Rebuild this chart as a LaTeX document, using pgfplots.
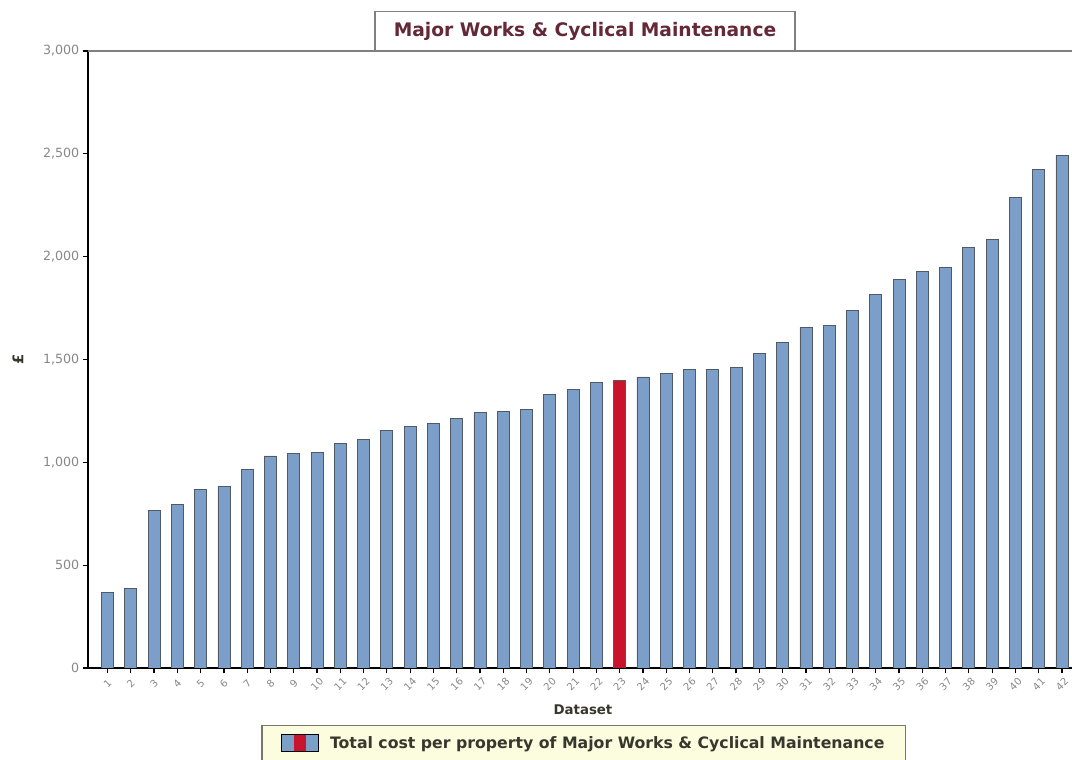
\documentclass[border=0pt]{standalone}
\usepackage{pgfplots}
\pgfplotsset{compat=1.18}
\usepackage{fontspec}
\setmainfont{DejaVu Sans}

\definecolor{barblue}{RGB}{123,159,200}
\definecolor{barred}{RGB}{200,20,44}
\definecolor{baredge}{RGB}{80,90,102}
\definecolor{titlered}{RGB}{100,40,55}
\definecolor{ticktext}{RGB}{135,135,135}
\definecolor{legfill}{RGB}{252,252,222}
\definecolor{legedge}{RGB}{120,120,100}
\definecolor{legtext}{RGB}{55,55,45}

\begin{document}
\begin{tikzpicture}
\begin{axis}[
  at={(0,0)}, anchor=south west,
  scale only axis,
  width=738pt, height=462.75pt,
  xmin=0.162, xmax=42.43,
  ymin=0, ymax=3000,
  axis x line*=bottom, axis y line*=left,
  axis line style={black, line width=0.9pt},
  tick align=outside,
  major tick length=4pt,
  tick style={black, line width=0.9pt},
  xtick={1,...,42},
  ytick={0,500,1000,1500,2000,2500,3000},
  /pgf/number format/1000 sep={,},
  /pgf/number format/assume math mode=true,
  xticklabel style={font=\fontsize{7.5}{9}\selectfont, text=ticktext, rotate=45, anchor=center, inner sep=0pt},
  xticklabel shift=8pt,
  yticklabel style={font=\fontsize{9.5}{11}\selectfont, text=ticktext, xshift=1pt},
  xlabel={Dataset},
  xlabel style={font=\bfseries\fontsize{10}{12}\selectfont, text=legtext, at={(axis description cs:0.503,0)}, anchor=center, yshift=-31.5pt},
  ylabel={£},
  ylabel style={font=\bfseries\fontsize{11}{12}\selectfont, text=legtext, at={(axis description cs:0,0.5)}, anchor=center, yshift=52.5pt},
  legend style={
    at={(axis description cs:0.504,-0.0924)}, anchor=north,
    fill=legfill, draw=legedge, line width=0.9pt,
    font=\bfseries\fontsize{11.8}{14}\selectfont, text=legtext,
    inner xsep=14pt, inner ysep=6pt,
  },
  legend cell align=left,
  legend image code/.code={
    \fill[fill=barblue, draw=none] (0pt,-6.4pt) rectangle (27.75pt,6.4pt);
    \fill[fill=barred, draw=none] (9.25pt,-6.4pt) rectangle (18.5pt,6.4pt);
    \draw[draw=black, fill=none, line width=0.9pt] (0pt,-6.4pt) rectangle (27.75pt,6.4pt);
    \path[draw=none, fill=none] (0pt,0pt) -- (34.5pt,0pt);
  },
]
% all datasets except the highlighted one
\addplot[ybar, bar width=9pt, bar shift=0pt, fill=barblue, draw=baredge, line width=0.6pt]
  coordinates {
  (1,366) (2,386) (3,768) (4,797) (5,870) (6,881) (7,967) (8,1031)
  (9,1044) (10,1049) (11,1092) (12,1112) (13,1157) (14,1176) (15,1188)
  (16,1214) (17,1241) (18,1249) (19,1259) (20,1331) (21,1355) (22,1387)
  (24,1415) (25,1434) (26,1452) (27,1452) (28,1463) (29,1528) (30,1584)
  (31,1656) (32,1664) (33,1740) (34,1818) (35,1891) (36,1930) (37,1946)
  (38,2043) (39,2084) (40,2288) (41,2424) (42,2494)
  };
\addlegendentry{Total cost per property of Major Works \& Cyclical Maintenance}
% highlighted dataset
\addplot[ybar, bar width=9pt, bar shift=0pt, fill=barred, draw=baredge, line width=0.6pt, forget plot]
  coordinates {(23,1400)};
% grey frame line along the top of the plot area
\draw[gray, line width=0.9pt] (rel axis cs:0,1) -- (rel axis cs:1,1);
\end{axis}
% chart title in its framed box
\node[draw=gray, line width=0.9pt, fill=white, text=titlered,
      font=\bfseries\fontsize{14}{17}\selectfont,
      minimum width=315pt, minimum height=29.5pt, inner sep=0pt]
  at (372.75pt,477.5pt) {Major Works \& Cyclical Maintenance};
\pgfresetboundingbox
\useasboundingbox (-66pt,-69pt) rectangle (738pt,501pt);
\end{tikzpicture}
\end{document}
